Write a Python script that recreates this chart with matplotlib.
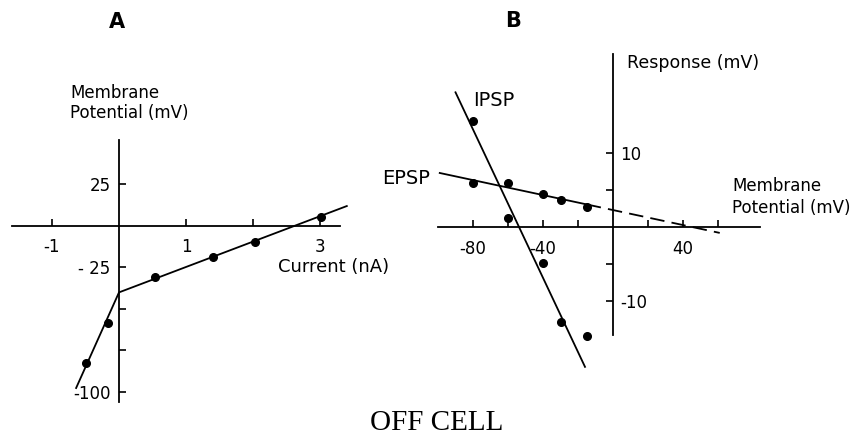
import matplotlib
matplotlib.use("Agg")
import matplotlib.pyplot as plt

W, H = 863, 446

# panel A: current-voltage relation
current = [-0.49, -0.16, 0.54, 1.40, 2.03, 3.01]
potential = [-82.5, -58.4, -30.7, -18.7, -9.6, 5.4]
fit_current = [-0.64, 0.0, 3.4]
fit_potential = [-97.6, -40.0, 12.0]
a_xticks = [-1, 1, 2, 3]
a_xlabels = ["-1", "1", "", "3"]
a_yticks = [25, -25, -50, -75, -100]
a_ylabels = ["25", "- 25", "", "", "-100"]

# panel B: response vs membrane potential
ipsp_v = [-80, -60, -40, -30, -15]
ipsp_r = [14.3, 1.2, -4.9, -12.8, -14.7]
epsp_v = [-80, -60, -40, -30, -15]
epsp_r = [6.0, 5.9, 4.5, 3.6, 2.7]
ipsp_fit_v = [-90, -16]
ipsp_fit_r = [18.2, -18.9]
epsp_fit_v = [-99, -15]
epsp_fit_r = [7.3, 3.05]
epsp_ext_v = [-15, 61]
epsp_ext_r = [3.05, -0.8]
b_xticks = [-80, -60, -40, -20, 20, 40, 60]
b_xlabels = ["-80", "", "-40", "", "", "40", ""]
b_yticks = [-10, -5, 5, 10]
b_ylabels = ["-10", "", "", "10"]


def px_axes(fig, x0, y0, x1, y1):
    # pixel box (top-left origin) -> figure axes
    return fig.add_axes([x0 / W, 1 - y1 / H, (x1 - x0) / W, (y1 - y0) / H])


plt.rcParams["font.family"] = "DejaVu Sans"
fig = plt.figure(figsize=(W / 100, H / 100), dpi=100)

lw = 1.3
ms = 5.5
tfs = 12

# ---- panel A
ax = px_axes(fig, 5.1, 133, 360.2, 408.6)
ax.set_xlim(-1.7, 3.6)
ax.set_ylim(-110, 56)
ax.patch.set_visible(False)
for s in ["top", "right"]:
    ax.spines[s].set_visible(False)
ax.spines["bottom"].set_position(("data", 0))
ax.spines["left"].set_position(("data", 0))
ax.spines["bottom"].set_bounds(-1.6, 3.3)
ax.spines["left"].set_bounds(-106, 52)
for s in ["bottom", "left"]:
    ax.spines[s].set_linewidth(1.3)
ax.set_xticks(a_xticks)
ax.set_xticklabels(a_xlabels)
ax.set_yticks(a_yticks)
ax.set_yticklabels(a_ylabels)
ax.tick_params(axis="x", direction="in", length=5, width=1.2, pad=9, labelsize=tfs)
ax.tick_params(axis="y", direction="in", length=5, width=1.2, pad=6, labelsize=tfs)
ax.plot(fit_current, fit_potential, color="black", lw=lw)
ax.plot(current, potential, "o", color="black", ms=ms)

# ---- panel B
bx = px_axes(fig, 429.25, 42, 770.5, 389.8)
bx.set_xlim(-105, 90)
bx.set_ylim(-22, 25)
bx.patch.set_visible(False)
for s in ["top", "left"]:
    bx.spines[s].set_visible(False)
bx.spines["bottom"].set_position(("data", 0))
bx.spines["right"].set_position(("data", 0))
bx.spines["bottom"].set_bounds(-100, 84)
bx.spines["right"].set_bounds(-14.6, 23.4)
for s in ["bottom", "right"]:
    bx.spines[s].set_linewidth(1.3)
bx.yaxis.tick_right()
bx.set_xticks(b_xticks)
bx.set_xticklabels(b_xlabels)
bx.set_yticks(b_yticks)
bx.set_yticklabels(b_ylabels)
bx.tick_params(axis="x", direction="in", length=5, width=1.2, pad=9, labelsize=tfs)
bx.tick_params(axis="y", direction="in", length=5, width=1.2, pad=5, labelsize=tfs)
bx.plot(ipsp_fit_v, ipsp_fit_r, color="black", lw=lw)
bx.plot(epsp_fit_v, epsp_fit_r, color="black", lw=lw)
bx.plot(epsp_ext_v, epsp_ext_r, color="black", lw=lw, ls=(0, (8, 4)))
bx.plot(ipsp_v, ipsp_r, "o", color="black", ms=ms)
bx.plot(epsp_v, epsp_r, "o", color="black", ms=ms)


def label(x, y, s, **kw):
    fig.text(x / W, 1 - y / H, s, **kw)


label(117, 22, "A", fontsize=15, fontweight="bold", ha="center", va="center")
label(513, 21, "B", fontsize=15, fontweight="bold", ha="center", va="center")
label(70, 103, "Membrane\nPotential (mV)", fontsize=12, ha="left", va="center",
      linespacing=1.15)
label(278, 267, "Current (nA)", fontsize=13, ha="left", va="center")
label(627, 63, "Response (mV)", fontsize=12.5, ha="left", va="center")
label(473, 100, "IPSP", fontsize=14, ha="left", va="center")
label(382, 178, "EPSP", fontsize=14, ha="left", va="center")
label(732, 197, "Membrane\nPotential (mV)", fontsize=12, ha="left", va="center",
      linespacing=1.35)
label(437, 423, "OFF CELL", fontsize=21, ha="center", va="center",
      family="Liberation Serif")

fig.savefig("out.png", dpi=100)
